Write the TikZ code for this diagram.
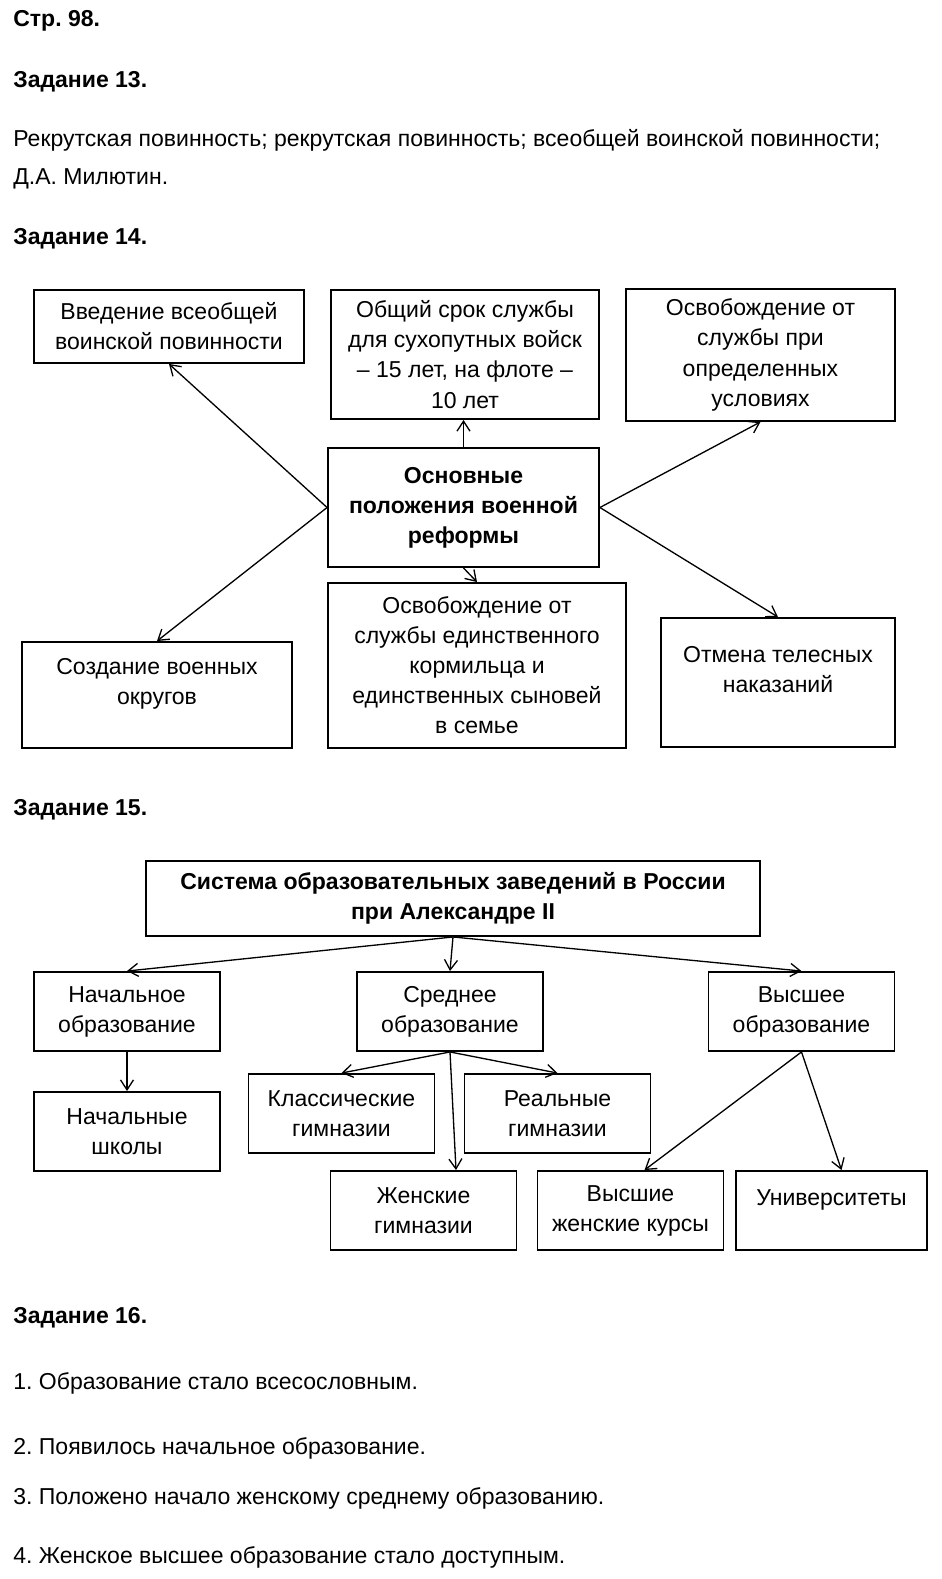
\documentclass[tikz,border=0pt]{standalone}
\usepackage{fontspec}
\setmainfont{Liberation Sans}
\usetikzlibrary{arrows.meta,calc}
\frenchspacing

\tikzset{
  box/.style={draw, line width=1.1pt, align=center},
  small/.style={box, minimum width=3.72cm, minimum height=1.58cm},
  txt/.style={anchor=base west, inner sep=0pt},
  head/.style={txt, font=\bfseries\fontsize{13.1}{17.1}\selectfont},
  arr/.style={-{Straight Barb[length=2mm,width=2.6mm]}, line width=0.75pt},
}

\begin{document}
\begin{tikzpicture}[x=0.02cm, y=-0.02cm, every node/.style={font=\fontsize{13.1}{17.1}\selectfont}]
    \useasboundingbox (0,0) rectangle (941,1579);

    % task 13
    \node[head] (page) at (13,26) {Стр. 98.};
    \node[head] (task13) at (13,87) {Задание 13.};
    \node[txt] (ans13a) at (13,146) {Рекрутская повинность; рекрутская повинность; всеобщей воинской повинности;};
    \node[txt] (ans13b) at (13,184) {Д.А. Милютин.};

    % task 14
    \node[head] (task14) at (13,244) {Задание 14.};
    \node[box, font=\bfseries\fontsize{13.1}{17.1}\selectfont, minimum width=5.42cm, minimum height=2.38cm] (reform) at (463.5,507.5) {Основные\\положения военной\\реформы};
    \node[box, minimum width=5.4cm, minimum height=1.46cm] (duty) at (169,326.5) {Введение всеобщей\\воинской повинности};
    \node[box, minimum width=5.36cm, minimum height=2.58cm] (term) at (465,354.5) {Общий срок службы\\для сухопутных войск\\– 15 лет, на флоте –\\10 лет};
    \node[box, minimum width=5.38cm, minimum height=2.6cm] (exempt) at (760.5,355) {\strut Освобождение от\\службы при\\определенных\\условиях\strut};
    \node[box, minimum width=5.4cm, minimum height=2.12cm] (districts) at (157,695) {Создание военных\\округов\\[-2pt]\mbox{}};
    \node[box, minimum width=5.96cm, minimum height=3.3cm] (sons) at (477,665.5) {Освобождение от\\службы единственного\\кормильца и\\единственных сыновей\\в семье};
    \node[box, minimum width=4.68cm, minimum height=2.58cm] (punish) at (778,682.5) {Отмена телесных\\наказаний\\[-2pt]\mbox{}};

    \draw[arr] (reform.west) -- (duty.south);
    \draw[arr] (reform.north) -- (reform.north |- term.south);
    \draw[arr] (reform.east) -- (exempt.south);
    \draw[arr] (reform.west) -- (districts.north);
    \draw[arr] (reform.south) -- (sons.north);
    \draw[arr] (reform.east) -- (punish.north);

    % task 15
    \node[head] (task15) at (13,815) {Задание 15.};
    \node[box, font=\bfseries\fontsize{13.1}{17.1}\selectfont, minimum width=12.28cm, minimum height=1.5cm] (system) at (453,898.5) {Система образовательных заведений в России\\при Александре II};
    \node[small] (primary) at (127,1011.5) {Начальное\\образование};
    \node[small] (secondary) at (450,1011.5) {Среднее\\образование};
    \node[small] (higher) at (801.5,1011.5) {Высшее\\образование};
    \node[small] (schools) at (127,1131.5) {Начальные\\школы};
    \node[small] (classic) at (341.5,1113.5) {Классические\\гимназии};
    \node[small] (real) at (557.5,1113.5) {Реальные\\гимназии};
    \node[small] (female) at (423.5,1210.5) {Женские\\гимназии};
    \node[small] (courses) at (630.5,1210.5) {Высшие\\женские курсы};
    \node[small, minimum width=3.82cm] (univ) at (831.5,1210.5) {Университеты\\[-2pt]\mbox{}};

    \draw[arr] (system.south) -- (primary.north);
    \draw[arr] (system.south) -- (secondary.north);
    \draw[arr] (system.south) -- (higher.north);
    \draw[arr] (primary.south) -- (schools.north);
    \draw[arr] (secondary.south) -- (classic.north);
    \draw[arr] (secondary.south) -- (real.north);
    \draw[arr] (secondary.south) -- ($(secondary.south |- female.north)+(6,0)$);
    \draw[arr] (higher.south) -- ($(courses.north)+(14,0)$);
    \draw[arr] (higher.south) -- ($(univ.north)+(10,0)$);

    % task 16
    \node[head] (task16) at (13,1323) {Задание 16.};
    \node[txt] (item1) at (13,1389) {1. Образование стало всесословным.};
    \node[txt] (item2) at (13,1454) {2. Появилось начальное образование.};
    \node[txt] (item3) at (13,1504) {3. Положено начало женскому среднему образованию.};
    \node[txt] (item4) at (13,1563) {4. Женское высшее образование стало доступным.};
\end{tikzpicture}
\end{document}
